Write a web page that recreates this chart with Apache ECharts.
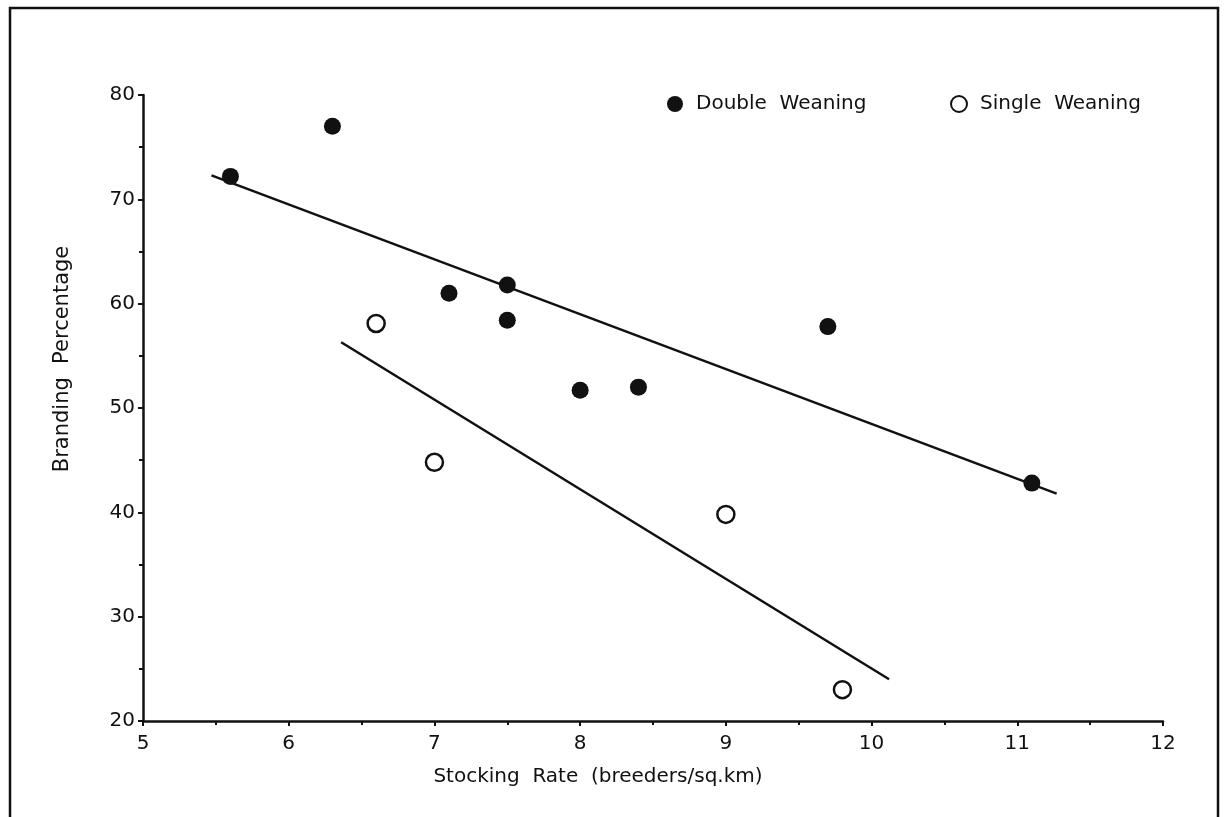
<!DOCTYPE html>
<html>
<head>
<meta charset="utf-8">
<style>
html,body{margin:0;padding:0;background:#fff;}
#chart{width:1227px;height:817px;}
</style>
<script src="https://cdn.jsdelivr.net/npm/echarts@6/dist/echarts.min.js"></script>
</head>
<body>
<div id="chart"></div>
<script>
var doubleX = [5.6, 6.3, 7.1, 7.5, 7.5, 8.0, 8.4, 9.7, 11.1];
var doubleY = [72.2, 77.0, 61.0, 61.8, 58.4, 51.7, 52.0, 57.8, 42.8];
var singleX = [6.6, 7.0, 9.0, 9.8];
var singleY = [58.1, 44.8, 39.8, 23.0];
// fitted lines, end points as drawn
var doubleFitX = [5.47, 11.27];
var doubleFitY = [72.3, 41.8];
var singleFitX = [6.36, 10.12];
var singleFitY = [56.3, 24.0];

function pairs(xs, ys){
	var out = [];
	for(var i=0;i<xs.length;i++){ out.push([xs[i], ys[i]]); }
	return out;
}

var font = '"DejaVu Sans", sans-serif';
var ink = '#111';

var myChart = echarts.init(document.getElementById('chart'));
var option = {
	backgroundColor: '#fff',
	animation: false,
	textStyle: {fontFamily: font, color: ink},
	grid: {left: 143, right: 64, top: 95, bottom: 96},
	legend: [
		{data: ['Double  Weaning'], left: 662, top: 89, itemWidth: 16, itemHeight: 16, itemGap: 0,
			textStyle: {fontFamily: font, fontSize: 20, color: ink, padding: [0,0,0,8]}},
		{data: ['Single  Weaning'], left: 945, top: 89, itemWidth: 16, itemHeight: 16, itemGap: 0,
			textStyle: {fontFamily: font, fontSize: 20, color: ink, padding: [0,0,0,8]}}
	],
	xAxis: {
		type: 'value', min: 5, max: 12, interval: 1,
		axisLine: {lineStyle: {color: ink, width: 2.5}},
		axisTick: {show: true, length: 5, lineStyle: {color: ink, width: 2}},
		minorTick: {show: true, splitNumber: 2, length: 4, lineStyle: {color: ink, width: 2}},
		splitLine: {show: false},
		axisLabel: {fontFamily: font, fontSize: 20, color: ink, margin: 13}
	},
	yAxis: {
		type: 'value', min: 20, max: 80, interval: 10,
		axisLine: {show: true, lineStyle: {color: ink, width: 2.5}},
		axisTick: {show: true, length: 5, lineStyle: {color: ink, width: 2}},
		minorTick: {show: true, splitNumber: 2, length: 4, lineStyle: {color: ink, width: 2}},
		splitLine: {show: false},
		axisLabel: {fontFamily: font, fontSize: 20, color: ink, margin: 8}
	},
	series: [
		{
			name: 'Double  Weaning', type: 'scatter', symbol: 'circle', symbolSize: 17,
			itemStyle: {color: ink, borderColor: ink, borderWidth: 0, opacity: 1},
			data: pairs(doubleX, doubleY), z: 3
		},
		{
			name: 'Single  Weaning', type: 'scatter', symbol: 'circle', symbolSize: 17,
			itemStyle: {color: '#fff', borderColor: ink, borderWidth: 2.5, opacity: 1},
			data: pairs(singleX, singleY), z: 3
		},
		{
			name: 'fitDouble', type: 'line', showSymbol: false, symbol: 'none',
			lineStyle: {color: ink, width: 2.5}, data: pairs(doubleFitX, doubleFitY), z: 2
		},
		{
			name: 'fitSingle', type: 'line', showSymbol: false, symbol: 'none',
			lineStyle: {color: ink, width: 2.5}, data: pairs(singleFitX, singleFitY), z: 2
		}
	],
	graphic: [
		{type: 'rect', shape: {x: 10, y: 8, width: 1208, height: 830},
			style: {fill: 'none', stroke: ink, lineWidth: 2.5}, silent: true},
		// axis titles sit off-centre in the original
		{type: 'text', x: 598, y: 777, silent: true,
			style: {text: 'Stocking  Rate  (breeders/sq.km)', font: '20px "DejaVu Sans", sans-serif',
				fill: ink, align: 'center', verticalAlign: 'middle'}},
		{type: 'text', x: 63, y: 359, rotation: Math.PI/2, silent: true,
			style: {text: 'Branding  Percentage', font: '21px "DejaVu Sans", sans-serif',
				fill: ink, align: 'center', verticalAlign: 'middle'}}
	]
};
myChart.setOption(option);
</script>
</body>
</html>
